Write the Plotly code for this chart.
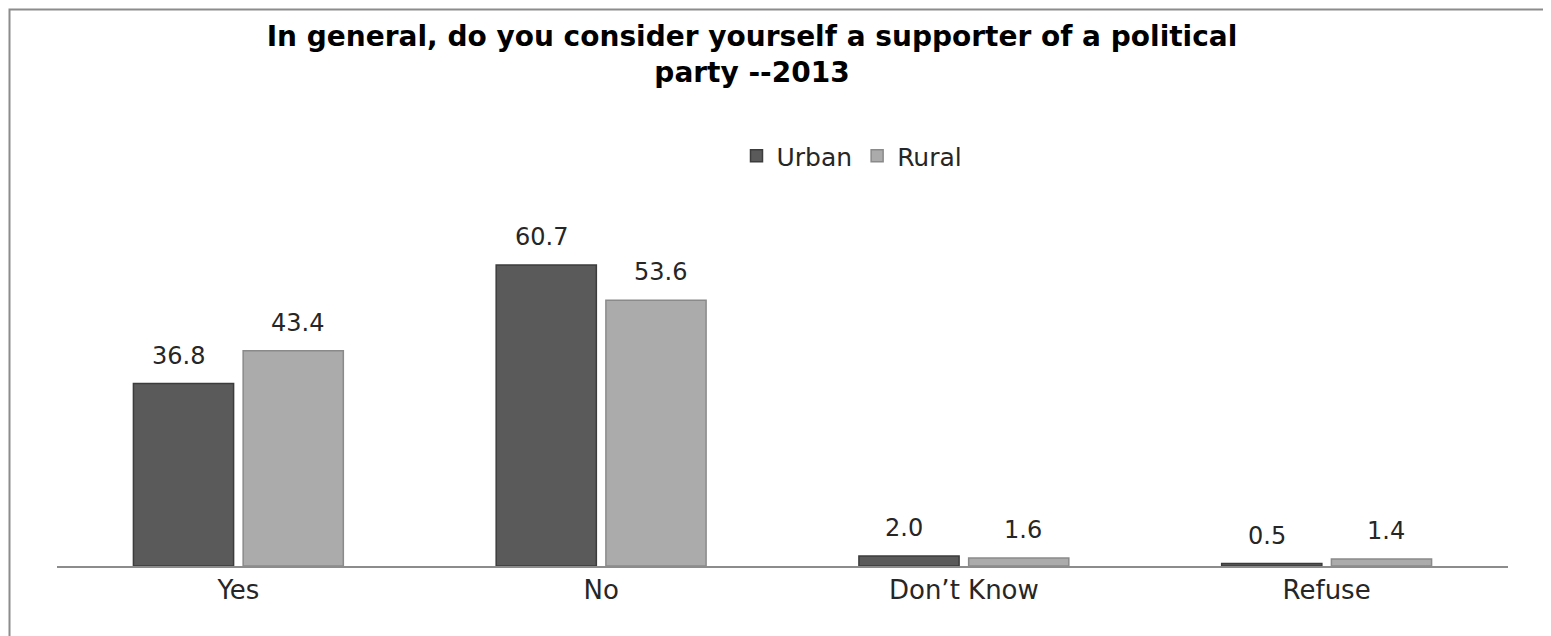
import plotly.graph_objects as go

categories = ["Yes", "No", "Don’t Know", "Refuse"]
urban = [36.8, 60.7, 2.0, 0.5]
rural = [43.4, 53.6, 1.6, 1.4]
series_names = ["Urban", "Rural"]

W, H = 1551, 636
OFF = 8  # page body margin offset
L, T = 57 - OFF, 219 - OFF
pw, ph = 1451, 347
R, B = W - L - pw, H - T - ph
BASE = 566  # plot bottom in screenshot pixels

fig = go.Figure()
fig.add_trace(go.Bar(x=categories, y=urban, name=series_names[0],
                     marker=dict(color="#5a5a5a", line=dict(color="#3c3c3c", width=1.5))))
fig.add_trace(go.Bar(x=categories, y=rural, name=series_names[1],
                     marker=dict(color="#ababab", line=dict(color="#8a8a8a", width=1.5))))

font_lbl = dict(family="DejaVu Sans", size=24, color="#262626")
for vals, shift in ((urban, -59.5), (rural, 59.5)):
    for c, v in zip(categories, vals):
        fig.add_annotation(x=c, y=v, text=f"{v:.1f}", showarrow=False,
                           xshift=shift, yshift=12, yanchor="bottom",
                           font=font_lbl)

def px_x(p):
    return (p - 57) / pw

def px_y(p):
    return (BASE - p) / ph

fig.add_shape(type="rect", xref="paper", yref="paper",
              x0=px_x(9.5), x1=px_x(1548), y0=px_y(680), y1=px_y(9.5),
              line=dict(color="#8c8c8c", width=2), fillcolor="rgba(0,0,0,0)", layer="below")

fig.update_layout(
    width=W, height=H,
    margin=dict(l=L, r=R, t=T, b=B),
    paper_bgcolor="white", plot_bgcolor="white",
    title=dict(text="<b>In general, do you consider yourself a supporter of a political<br>party --2013</b>",
               x=(752 - OFF) / W, xanchor="center", y=1 - 38 / H, yanchor="top", yref="container",
               font=dict(family="DejaVu Sans", size=28, color="#000000")),
    barmode="group", bargap=0.395, bargroupgap=0.087,
    showlegend=True,
    legend=dict(orientation="h", x=px_x(852), xanchor="center", y=px_y(156), yanchor="middle",
                font=dict(family="DejaVu Sans", size=25, color="#262626"),
                itemwidth=30, traceorder="normal"),
    xaxis=dict(showline=True, linecolor="#8c8c8c", linewidth=1.5, ticks="",
               tickfont=dict(family="DejaVu Sans", size=26, color="#262626")),
    yaxis=dict(range=[0, 70], visible=False, showgrid=False),
)

fig.write_html("out.html")
